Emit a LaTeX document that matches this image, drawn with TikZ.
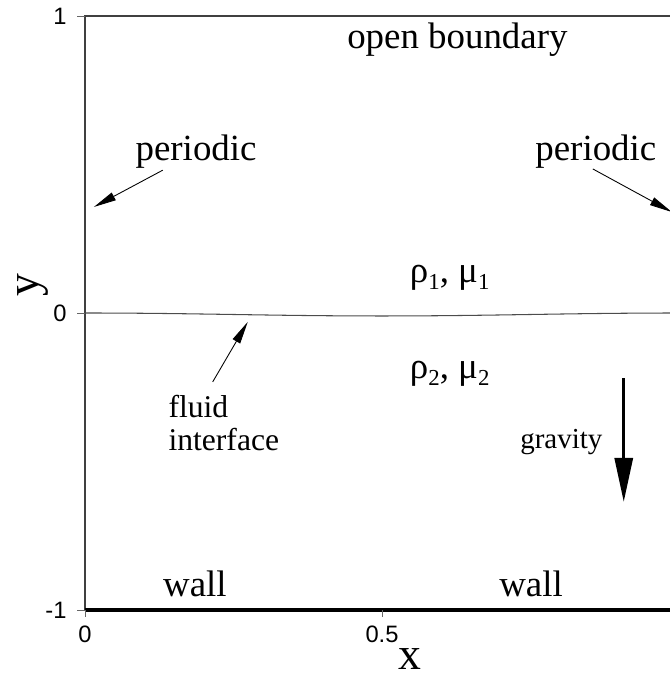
\documentclass[tikz,border=0pt]{standalone}
\usepackage{fontspec}
\setmainfont{Liberation Serif}
\newfontfamily\tickfont{Liberation Sans}
\usetikzlibrary{arrows.meta}
\newcommand{\lowsub}[1]{\raisebox{-0.45ex}{\fontsize{13}{13}\selectfont #1}}

\begin{document}
\begin{tikzpicture}[
  x=11.88cm, y=5.94cm,
  frameline/.style = {draw=black!75, line width=0.6pt},
  wallline/.style  = {draw=black,    line width=1.8pt},
  ifcline/.style   = {draw=black!70, line width=0.6pt},
  tickline/.style  = {draw=black!60, line width=0.5pt},
  ticklbl/.style   = {font=\tickfont\fontsize{13.5}{14}\selectfont, inner sep=0pt},
  lbl/.style       = {font=\fontsize{21}{24}\selectfont, inner sep=0pt, anchor=base},
  smalllbl/.style  = {font=\fontsize{18}{18.5}\selectfont, inner sep=0pt, align=left},
  glbl/.style      = {font=\fontsize{16.5}{18}\selectfont, inner sep=0pt, anchor=base},
  axlbl/.style     = {font=\fontsize{26}{28}\selectfont, inner sep=0pt},
  ptr/.style       = {-{Triangle[length=0.45cm, width=0.17cm]}, line width=0.5pt},
  gptr/.style      = {-{Triangle[length=0.88cm, width=0.36cm]}, line width=1.8pt},
]
\useasboundingbox (-0.1431,-1.2155) rectangle (0.9848,1.0539);

%% ── Domain frame and wall ───────────────────────────────────────────────────
\draw[frameline] (0,-1) -- (0,1) -- (1,1) -- (1,-1);
\draw[wallline]  (0,-1) -- (1,-1);

%% ── Ticks ───────────────────────────────────────────────────────────────────
\foreach \yv in {-1,0,1}
  \draw[tickline] (0,\yv) -- (-0.0135,\yv)
    node[ticklbl, left=0.2cm] {\yv};
\foreach \xv in {0,0.5}
  \draw[tickline] (\xv,-1) -- (\xv,-1.024)
    node[ticklbl, below=0.17cm] {\xv};

\node[axlbl, rotate=90] (ylab) at (-0.0875, 0.094) {y};
\node[axlbl]            (xlab) at ( 0.547,-1.165) {x};

%% ── Interface ───────────────────────────────────────────────────────────────
\draw[ifcline] plot[domain=0:1, samples=60, smooth]
  (\x, {-0.005*(1-cos(360*\x))});

%% ── Labels ──────────────────────────────────────────────────────────────────
\node[lbl] (openb) at (0.627, 0.892) {open boundary};
\node[lbl] (perL)  at (0.187, 0.515) {periodic};
\node[lbl] (perR)  at (0.860, 0.515) {periodic};
\node[lbl] (fl1)   at (0.614, 0.104) {ρ\lowsub{1}, μ\lowsub{1}};
\node[lbl] (fl2)   at (0.614,-0.219) {ρ\lowsub{2}, μ\lowsub{2}};
\node[lbl] (wallL) at (0.185,-0.956) {wall};
\node[lbl] (wallR) at (0.751,-0.956) {wall};
\node[smalllbl, anchor=north west] (ifc) at (0.140,-0.276) {fluid\\interface};
\node[glbl] (grav) at (0.802,-0.455) {gravity};

%% ── Pointers ────────────────────────────────────────────────────────────────
\coordinate (perLtail) at (0.131, 0.481);
\coordinate (perLtip)  at (0.015, 0.357);
\coordinate (perRtail) at (0.855, 0.485);
\coordinate (perRtip)  at (0.988, 0.340);
\coordinate (ifctail)  at (0.215,-0.232);
\coordinate (ifctip)   at (0.274,-0.030);
\coordinate (gtop)     at (0.907,-0.219);
\coordinate (gbot)     at (0.907,-0.636);

\draw[ptr]  (perLtail) -- (perLtip);
\draw[ptr]  (perRtail) -- (perRtip);
\draw[ptr]  (ifctail)  -- (ifctip);
\draw[gptr] (gtop)     -- (gbot);

\end{tikzpicture}
\end{document}
